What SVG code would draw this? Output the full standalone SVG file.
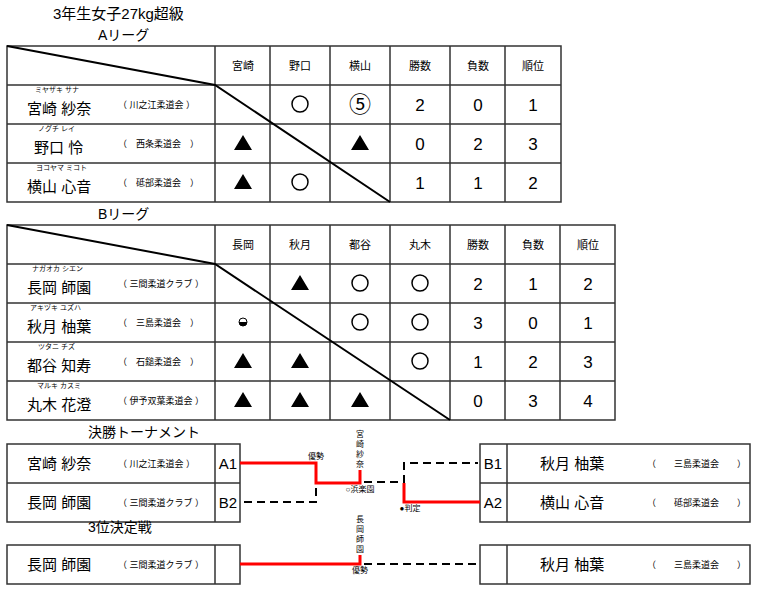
<svg xmlns="http://www.w3.org/2000/svg" width="760" height="590" viewBox="0 0 760 590">
<style>
text{font-family:"Liberation Sans","Noto Sans CJK JP",sans-serif;fill:#000}
.g{fill:none;stroke:#333;stroke-width:1.5}
.d{stroke:#000;stroke-width:2;fill:none}
.h{font-size:11px;text-anchor:middle}
.n{font-size:17px;text-anchor:middle}
.nm{font-size:15px}
.f{font-size:7px}
.c{font-size:9px}
.t{font-size:14px}
.lb{font-size:15px;text-anchor:middle}
.r{stroke:#f00;stroke-width:3;fill:none}
.k{stroke:#000;stroke-width:2;fill:none;stroke-dasharray:8,5}
.s{font-size:8px;text-anchor:middle}
</style>
<rect width="760" height="590" fill="#fff"/>
<text x="53" y="19" font-size="15">3年生女子27kg超級</text>
<text x="98" y="40" class="t">Aリーグ</text>
<g id="tableA">
<path class="g" d="M7 46H561V202H7Z M7 85H561 M7 124H561 M7 163H561 M215 46V202 M270 46V202 M330 46V202 M390 46V202 M450 46V202 M505 46V202"/>
<path class="d" d="M7 46L215 85L390 202"/>
<g class="h"><text x="243" y="70">宮崎</text><text x="300" y="70">野口</text><text x="360" y="70">横山</text><text x="420" y="70">勝数</text><text x="478" y="70">負数</text><text x="533" y="70">順位</text></g>
<text x="35" y="92" class="f">ミヤザキ サナ</text><text x="27" y="114" class="nm">宮崎 紗奈</text><text x="118" y="108" class="c">（ 川之江柔道会 ）</text>
<text x="38" y="131" class="f">ノグチ レイ</text><text x="34" y="153" class="nm">野口 怜</text><text x="118" y="147" class="c">（　西条柔道会　）</text>
<text x="36" y="170" class="f">ヨコヤマ ミコト</text><text x="27" y="192" class="nm">横山 心音</text><text x="118" y="186" class="c">（　砥部柔道会　）</text>
<circle cx="300" cy="104" r="8" fill="none" stroke="#000" stroke-width="1.5"/>
<text x="360" y="112" font-size="22" text-anchor="middle">⑤</text>
<path d="M243 135L252 150H234Z M360 135L369 150H351Z M243 174L252 189H234Z"/>
<circle cx="300" cy="182" r="8" fill="none" stroke="#000" stroke-width="1.5"/>
<g class="n"><text x="420" y="111">2</text><text x="478" y="111">0</text><text x="533" y="111">1</text>
<text x="420" y="150">0</text><text x="478" y="150">2</text><text x="533" y="150">3</text>
<text x="420" y="189">1</text><text x="478" y="189">1</text><text x="533" y="189">2</text></g>
</g>
<text x="98" y="219" class="t">Bリーグ</text>
<g id="tableB">
<path class="g" d="M7 225H615V420H7Z M7 264H615 M7 303H615 M7 342H615 M7 381H615 M215 225V420 M270 225V420 M330 225V420 M390 225V420 M450 225V420 M505 225V420 M560 225V420"/>
<path class="d" d="M7 225L215 264L450 420"/>
<g class="h"><text x="243" y="249">長岡</text><text x="300" y="249">秋月</text><text x="360" y="249">都谷</text><text x="420" y="249">丸木</text><text x="478" y="249">勝数</text><text x="533" y="249">負数</text><text x="588" y="249">順位</text></g>
<text x="32" y="271" class="f">ナガオカ シエン</text><text x="27" y="293" class="nm">長岡 師園</text><text x="118" y="287" class="c">（ 三間柔道クラブ ）</text>
<text x="30" y="310" class="f">アキヅキ ユズハ</text><text x="27" y="332" class="nm">秋月 柚葉</text><text x="118" y="326" class="c">（　三島柔道会　）</text>
<text x="38" y="349" class="f">ツタニ チズ</text><text x="27" y="371" class="nm">都谷 知寿</text><text x="118" y="365" class="c">（　石鎚柔道会　）</text>
<text x="37" y="388" class="f">マルキ カスミ</text><text x="27" y="410" class="nm">丸木 花澄</text><text x="118" y="404" class="c">（ 伊予双葉柔道会 ）</text>
<g fill="none" stroke="#000" stroke-width="1.5"><circle cx="360" cy="283" r="8"/><circle cx="420" cy="283" r="8"/><circle cx="360" cy="322" r="8"/><circle cx="420" cy="322" r="8"/><circle cx="420" cy="361" r="8"/></g>
<circle cx="243" cy="322" r="4" fill="none" stroke="#000"/><path d="M239 322A4 4 0 0 0 247 322Z"/>
<path d="M300 275L309 290H291Z M243 353L252 368H234Z M300 353L309 368H291Z M243 392L252 407H234Z M300 392L309 407H291Z M360 392L369 407H351Z"/>
<g class="n"><text x="478" y="290">2</text><text x="533" y="290">1</text><text x="588" y="290">2</text>
<text x="478" y="329">3</text><text x="533" y="329">0</text><text x="588" y="329">1</text>
<text x="478" y="368">1</text><text x="533" y="368">2</text><text x="588" y="368">3</text>
<text x="478" y="407">0</text><text x="533" y="407">3</text><text x="588" y="407">4</text></g>
</g>
<text x="88" y="437" class="t">決勝トーナメント</text>
<g id="finalLeft">
<path class="g" d="M7 444H240V522H7Z M7 483H240 M215 444V522"/>
<text x="27" y="469" class="nm">宮崎 紗奈</text><text x="118" y="467" class="c">（ 川之江柔道会 ）</text><text x="228" y="469" class="lb">A1</text>
<text x="27" y="508" class="nm">長岡 師園</text><text x="118" y="506" class="c">（ 三間柔道クラブ ）</text><text x="228" y="508" class="lb">B2</text>
</g>
<g id="finalRight">
<path class="g" d="M480 444H750V522H480Z M480 483H750 M507 444V522"/>
<text x="493" y="469" class="lb">B1</text><text x="540" y="469" class="nm">秋月 柚葉</text><text x="647" y="467" class="c">（　　三島柔道会　　）</text>
<text x="493" y="508" class="lb">A2</text><text x="540" y="508" class="nm">横山 心音</text><text x="647" y="506" class="c">（　　砥部柔道会　　）</text>
</g>
<text x="88" y="532" class="t">3位決定戦</text>
<g id="thirdLeft">
<path class="g" d="M7 545H240V584H7Z M215 545V584"/>
<text x="27" y="570" class="nm">長岡 師園</text><text x="118" y="568" class="c">（ 三間柔道クラブ ）</text>
</g>
<g id="thirdRight">
<path class="g" d="M480 545H750V584H480Z M507 545V584"/>
<text x="540" y="570" class="nm">秋月 柚葉</text><text x="647" y="568" class="c">（　　三島柔道会　　）</text>
</g>
<g id="connectors">
<path class="r" d="M240 463H316V483H360V470"/>
<path class="k" d="M244 502H316V486"/>
<path class="k" d="M364 482H404V463H478"/>
<path class="r" d="M404 483V502H480"/>
<path class="r" d="M240 564H360V555"/>
<path class="k" d="M364 564H478"/>
</g>
<g class="s">
<text x="316" y="459">優勢</text>
<text x="360" y="437">宮</text><text x="360" y="447">崎</text><text x="360" y="457">紗</text><text x="360" y="467">奈</text>
<text x="360" y="492">○浜楽園</text>
<text x="410" y="511">●判定</text>
<text x="360" y="522">長</text><text x="360" y="532">岡</text><text x="360" y="542">師</text><text x="360" y="552">園</text>
<text x="360" y="573">優勢</text>
</g>
</svg>
